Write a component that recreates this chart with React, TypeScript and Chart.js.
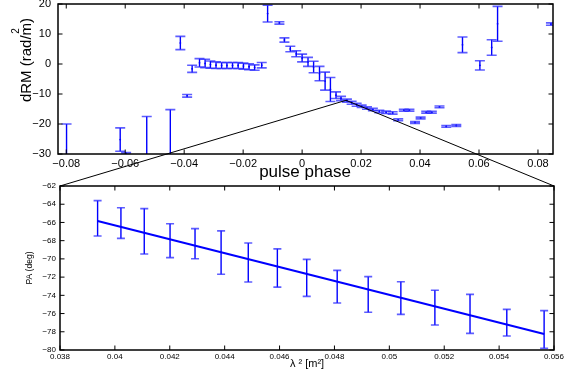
import React, { useEffect, useRef } from "react";
import { Chart, registerables } from "chart.js";

Chart.register(...registerables);

const FONT = "'Liberation Sans', Arial, Helvetica, sans-serif";

// ---------- top panel: dRM vs pulse phase ----------
const pulsePhase = [
  -0.0799, -0.0617, -0.0597, -0.0527, -0.0447, -0.0413, -0.039, -0.0373, -0.0348,
  -0.0329, -0.0311, -0.0292, -0.0273, -0.0255, -0.0236, -0.0217, -0.0199, -0.018, -0.0161,
  -0.0137, -0.0117, -0.0077, -0.006, -0.004, -0.002, 0.0, 0.002, 0.0039, 0.0059, 0.0078,
  0.0096, 0.0115, 0.0132, 0.0152, 0.0168, 0.0185, 0.0202, 0.022, 0.024, 0.0262, 0.0285,
  0.0307, 0.0326, 0.0345, 0.0364, 0.0383, 0.0402, 0.0421, 0.044, 0.0466, 0.0489, 0.0523,
  0.0544, 0.0603, 0.0643, 0.0663, 0.0844,
];
const dRM = [
  -38, -25.2, -29.8, -35, -33, 7.0, -10.6, -1.6, 0.4,
  0.2, -0.2, -0.4, -0.5, -0.5, -0.5, -0.5, -0.7, -0.9, -1.2,
  -0.4, 16.8, 13.7, 8.0, 5.0, 3.4, 2.0, 0.7, -1.0, -3.2, -5.7,
  -8.5, -10.4, -11.5, -12.2, -12.9, -13.6, -14.1, -14.7, -15.2, -15.8, -16.1,
  -16.3, -18.6, -15.4, -15.4, -19.5, -18.0, -16.1, -16.1, -14.3, -20.8, -20.5,
  6.4, -0.45, 5.5, 13.4, 13.3,
];
const dRMErr = [
  18, 3.9, 0.3, 17.5, 17.8, 2.2, 0.45, 1.2, 1.4,
  1.4, 1.2, 1.1, 1.0, 1.0, 1.0, 1.0, 1.0, 1.0, 0.9,
  0.9, 2.8, 0.4, 0.7, 0.9, 1.0, 1.3, 1.5, 1.9, 2.4, 3.0,
  4.0, 1.1, 0.7, 0.5, 0.5, 0.5, 0.4, 0.4, 0.4, 0.4, 0.4,
  0.4, 0.3, 0.3, 0.3, 0.3, 0.3, 0.3, 0.3, 0.3, 0.3, 0.3,
  2.6, 1.55, 2.6, 5.8, 0.4,
];
const phaseTicks = [-0.08, -0.06, -0.04, -0.02, 0, 0.02, 0.04, 0.06, 0.08];
const dRMTicks = [-30, -20, -10, 0, 10, 20];
const zoomPoint = { phase: 0.0149, dRM: -12.1 };

// ---------- bottom panel: PA vs lambda^2 ----------
const lambda2 = [
  0.03937, 0.04022, 0.04107, 0.04201, 0.04292, 0.04387, 0.04486, 0.04592,
  0.04699, 0.0481, 0.04923, 0.05042, 0.05166, 0.05294, 0.05428, 0.05564,
];
const pa = [
  -65.55, -66.07, -66.97, -68.0, -68.33, -69.3, -70.4, -71.0,
  -72.08, -73.05, -73.9, -74.3, -75.35, -76.03, -77.0, -77.75,
];
const paErr = [
  1.94, 1.68, 2.49, 1.86, 1.65, 2.38, 2.14, 2.1,
  2.03, 1.79, 1.95, 1.79, 1.9, 2.14, 1.46, 2.07,
];
const fitLambda2 = [0.03937, 0.05564];
const fitPA = [-65.84, -78.24];
const lambda2Ticks = [0.038, 0.04, 0.042, 0.044, 0.046, 0.048, 0.05, 0.052, 0.054, 0.056];
const paTicks = [-80, -78, -76, -74, -72, -70, -68, -66, -64, -62];

const fmt = (v: number, d: number) =>
  String(parseFloat(Number(v).toFixed(d))).replace("-", "\u2212");

function errorBarPlugin(id: string, xs: number[], ys: number[], errs: number[], capHalf: number) {
  return {
    id,
    afterDatasetsDraw(chart: any) {
      const { ctx, chartArea: a } = chart;
      const x = chart.scales.x;
      const y = chart.scales.y;
      ctx.save();
      ctx.beginPath();
      ctx.rect(a.left, a.top, a.right - a.left, a.bottom - a.top);
      ctx.clip();
      for (let i = 0; i < xs.length; i++) {
        const px = x.getPixelForValue(xs[i]);
        const pt = y.getPixelForValue(ys[i] + errs[i]);
        const pb = y.getPixelForValue(ys[i] - errs[i]);
        ctx.strokeStyle = "rgb(0,0,255)";
        ctx.lineWidth = 1.4;
        ctx.beginPath();
        ctx.moveTo(px, pt);
        ctx.lineTo(px, pb);
        ctx.stroke();
        ctx.strokeStyle = "rgba(40,40,255,0.75)";
        ctx.lineWidth = 1.6;
        ctx.beginPath();
        ctx.moveTo(px - capHalf, pt);
        ctx.lineTo(px + capHalf, pt);
        ctx.moveTo(px - capHalf, pb);
        ctx.lineTo(px + capHalf, pb);
        ctx.stroke();
      }
      ctx.restore();
    },
  };
}

function framePlugin(id: string, xTicks: number[], yTicks: number[], len: number) {
  return {
    id,
    afterDraw(chart: any) {
      const { ctx, chartArea: a } = chart;
      const x = chart.scales.x;
      const y = chart.scales.y;
      ctx.save();
      ctx.strokeStyle = "#000";
      ctx.lineWidth = 1;
      ctx.beginPath();
      xTicks.forEach((v) => {
        const p = x.getPixelForValue(v);
        ctx.moveTo(p, a.bottom);
        ctx.lineTo(p, a.bottom - len);
        ctx.moveTo(p, a.top);
        ctx.lineTo(p, a.top + len);
      });
      yTicks.forEach((v) => {
        const p = y.getPixelForValue(v);
        ctx.moveTo(a.left, p);
        ctx.lineTo(a.left + len, p);
        ctx.moveTo(a.right, p);
        ctx.lineTo(a.right - len, p);
      });
      ctx.stroke();
      ctx.lineWidth = 1.5;
      ctx.strokeRect(a.left, a.top, a.right - a.left, a.bottom - a.top);
      ctx.restore();
    },
  };
}

function scaleOpts(
  min: number,
  max: number,
  ticks: number[],
  decimals: number,
  fontSize: number,
  pad: number,
  size: number,
  horizontal: boolean
) {
  return {
    type: "linear",
    min,
    max,
    afterBuildTicks: (s: any) => {
      s.ticks = ticks.map((v) => ({ value: v }));
    },
    afterFit: (s: any) => {
      if (horizontal) s.height = size;
      else s.width = size;
      s.paddingLeft = 0;
      s.paddingRight = 0;
      s.paddingTop = 0;
      s.paddingBottom = 0;
    },
    grid: { display: false, drawTicks: false },
    border: { display: false },
    ticks: {
      autoSkip: false,
      maxRotation: 0,
      minRotation: 0,
      padding: pad,
      color: "#000",
      font: { family: FONT, size: fontSize },
      callback: (v: any) => fmt(Number(v), decimals),
    },
  };
}

export default function App() {
  const topRef = useRef<HTMLCanvasElement>(null);
  const botRef = useRef<HTMLCanvasElement>(null);

  useEffect(() => {
    if (!topRef.current || !botRef.current) return;

    const topTitles = {
      id: "topTitles",
      afterDraw(chart: any) {
        const ctx = chart.ctx;
        ctx.save();
        ctx.fillStyle = "#000";
        ctx.textAlign = "center";
        ctx.textBaseline = "middle";
        ctx.font = `17px ${FONT}`;
        ctx.fillText("pulse phase", 305, 172);
        ctx.translate(26.5, 60);
        ctx.rotate(-Math.PI / 2);
        ctx.font = `15px ${FONT}`;
        ctx.fillText("dRM (rad/m)", 0, 0);
        ctx.font = `10px ${FONT}`;
        ctx.fillText("2", 29, -10);
        ctx.restore();
      },
    };

    const topChart = new Chart(topRef.current, {
      type: "scatter",
      data: {
        datasets: [
          {
            data: pulsePhase.map((p, i) => ({ x: p, y: dRM[i] })),
            pointRadius: 0.9,
            pointBackgroundColor: "rgb(0,0,255)",
            pointBorderWidth: 0,
            showLine: false,
          },
        ],
      },
      options: {
        animation: false,
        responsive: false,
        events: [],
        layout: { autoPadding: false, padding: { left: 0, top: 4, right: 12, bottom: 196 } },
        plugins: { legend: { display: false }, tooltip: { enabled: false } },
        scales: {
          x: scaleOpts(-0.0828, 0.0851, phaseTicks, 2, 11, 3, 20, true) as any,
          y: scaleOpts(-30, 20, dRMTicks, 0, 11, 7, 58, false) as any,
        },
      },
      plugins: [
        errorBarPlugin("ebTop", pulsePhase, dRM, dRMErr, 5),
        framePlugin("frameTop", phaseTicks, dRMTicks, 4.5),
        topTitles,
      ],
    } as any);

    const botTitles = {
      id: "botTitles",
      afterDraw(chart: any) {
        const ctx = chart.ctx;
        ctx.save();
        ctx.fillStyle = "#000";
        ctx.textAlign = "center";
        ctx.textBaseline = "middle";
        ctx.font = `11px ${FONT}`;
        ctx.fillText("\u03bb \u00b2 [m\u00b2]", 307, 364);
        ctx.translate(30, 268);
        ctx.rotate(-Math.PI / 2);
        ctx.font = `8.5px ${FONT}`;
        ctx.fillText("PA (deg)", 0, 0);
        ctx.restore();
      },
    };

    const connector = {
      id: "connector",
      afterDraw(chart: any) {
        const ctx = chart.ctx;
        const a = chart.chartArea;
        const zx = topChart.scales.x.getPixelForValue(zoomPoint.phase);
        const zy = topChart.scales.y.getPixelForValue(zoomPoint.dRM);
        ctx.save();
        ctx.strokeStyle = "#000";
        ctx.lineWidth = 1;
        ctx.beginPath();
        ctx.moveTo(a.left, a.top);
        ctx.lineTo(zx, zy);
        ctx.lineTo(a.right, a.top);
        ctx.stroke();
        ctx.restore();
      },
    };

    const botChart = new Chart(botRef.current, {
      type: "scatter",
      data: {
        datasets: [
          {
            type: "line",
            data: fitLambda2.map((l, i) => ({ x: l, y: fitPA[i] })),
            borderColor: "rgb(0,0,255)",
            borderWidth: 2,
            pointRadius: 0,
            fill: false,
          },
          {
            data: lambda2.map((l, i) => ({ x: l, y: pa[i] })),
            pointRadius: 0,
            showLine: false,
          },
        ],
      },
      options: {
        animation: false,
        responsive: false,
        events: [],
        layout: { autoPadding: false, padding: { left: 0, top: 186, right: 11, bottom: 8 } },
        plugins: { legend: { display: false }, tooltip: { enabled: false } },
        scales: {
          x: scaleOpts(0.038, 0.056, lambda2Ticks, 3, 8, 2, 12, true) as any,
          y: scaleOpts(-80, -62, paTicks, 0, 8, 4, 60, false) as any,
        },
      },
      plugins: [
        errorBarPlugin("ebBot", lambda2, pa, paErr, 4),
        framePlugin("frameBot", lambda2Ticks, paTicks, 4.5),
        botTitles,
        connector,
      ],
    } as any);

    return () => {
      botChart.destroy();
      topChart.destroy();
    };
  }, []);

  const canvasStyle: React.CSSProperties = { position: "absolute", left: 0, top: 0, display: "block" };
  return (
    <div style={{ position: "absolute", left: 0, top: 0, width: 565, height: 370, background: "#fff" }}>
      <canvas ref={topRef} width={565} height={370} style={canvasStyle} />
      <canvas ref={botRef} width={565} height={370} style={canvasStyle} />
    </div>
  );
}
